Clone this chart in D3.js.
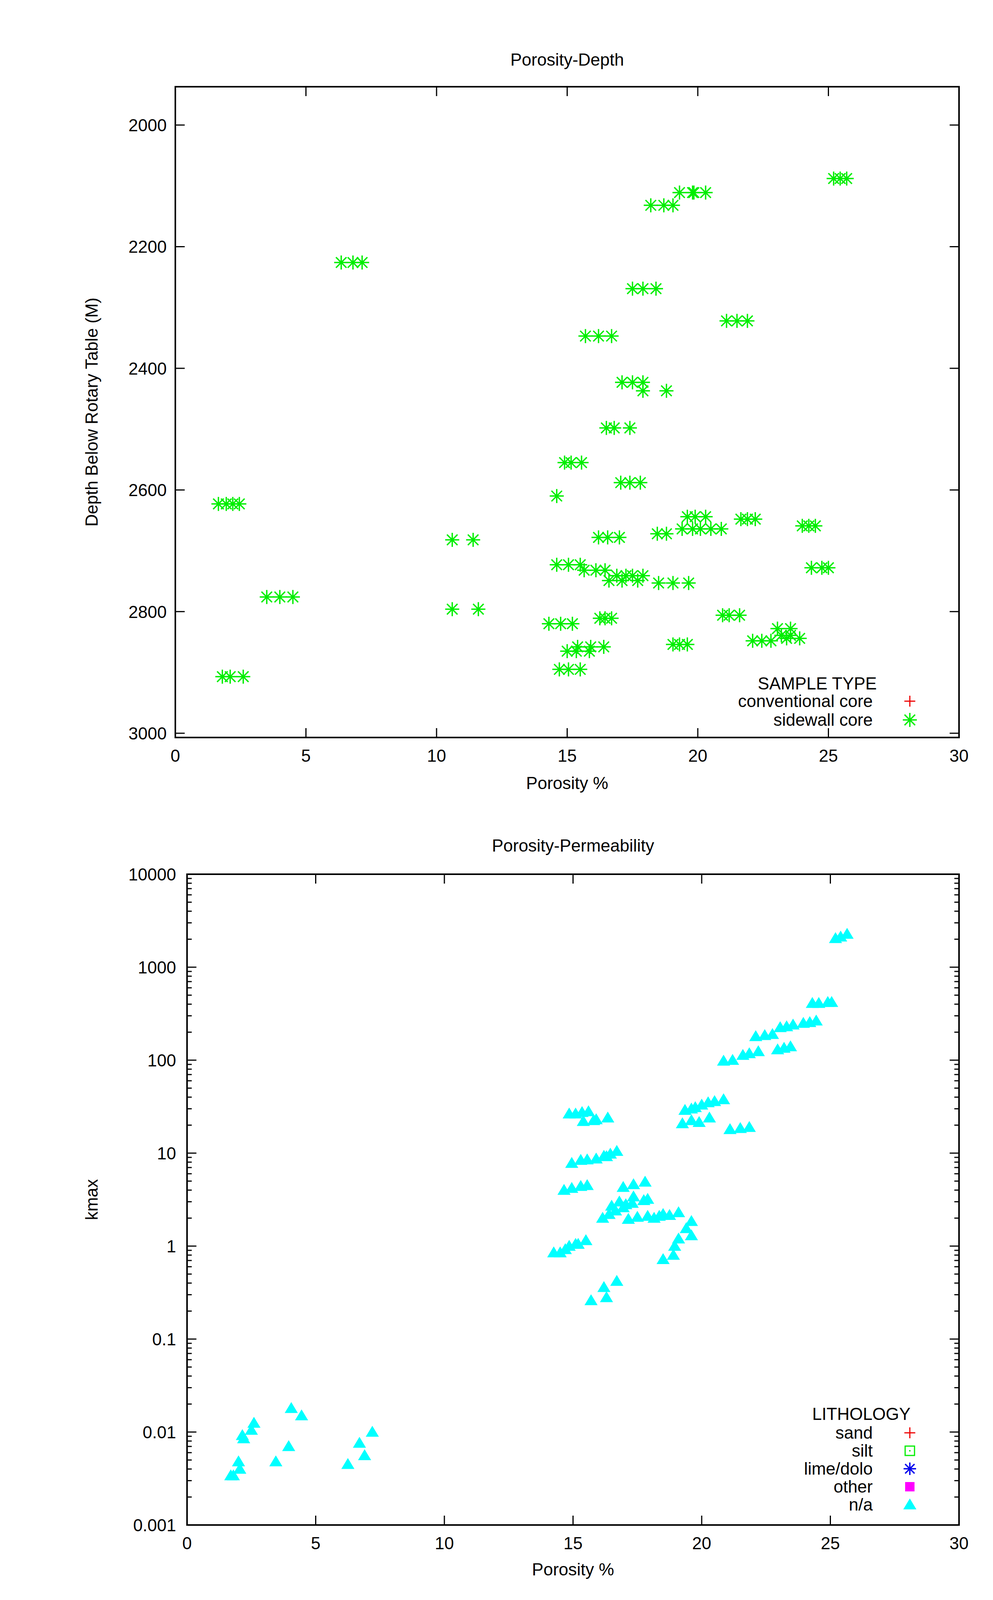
<!DOCTYPE html>
<html><head><meta charset="utf-8">
<script src="https://cdnjs.cloudflare.com/ajax/libs/d3/7.8.5/d3.min.js"></script>
<style>body{margin:0;background:#fff}text{font-family:"Liberation Sans",Arial,sans-serif}</style>
</head><body>
<script>
// sidewall core samples: porosity %, depth (M)
const swPoro = [25.2,25.45,25.7, 19.3,19.8,20.3,19.85, 18.2,18.7,19.05, 6.35,6.8,7.15, 17.5,17.9,18.4,
  21.1,21.5,21.9, 15.7,16.2,16.7, 17.1,17.5,17.9, 17.9,18.8, 16.5,16.8,17.4, 14.9,15.15,15.55,
  17.05,17.4,17.8, 14.6, 1.65,1.95,2.2,2.45, 19.6,19.9,20.3, 21.65,21.9,22.2, 24.0,24.25,24.5,
  19.4,19.8,20.1,20.5,20.9, 18.45,18.8, 16.2,16.55,17.0, 10.6,11.4, 14.6,15.05,15.5, 24.35,24.75,25.0,
  15.65,16.1,16.45, 16.9,17.25,17.5,17.9, 16.6,17.1,17.7, 18.5,19.05,19.65, 3.5,4.0,4.5, 10.6,11.6,
  20.95,21.2,21.6, 16.25,16.45,16.7, 14.3,14.75,15.2, 23.05,23.55, 23.2,23.55, 23.9,23.4,
  22.1,22.45,22.8, 19.05,19.3,19.6, 15.4,15.9,16.4, 15.0,15.35,15.85, 14.7,15.05,15.5, 1.8,2.1,2.6];
const swDepth = [2088,2088,2088, 2111,2111,2111,2111, 2132,2132,2132, 2226,2226,2226, 2269,2269,2269,
  2322,2322,2322, 2347,2347,2347, 2423,2423,2423, 2437,2437, 2498,2498,2498, 2555,2555,2555,
  2588,2588,2588, 2610, 2623,2623,2623,2623, 2644,2644,2644, 2648,2648,2648, 2659,2659,2659,
  2664,2664,2664,2664,2664, 2672,2672, 2678,2678,2678, 2682,2682, 2723,2723,2723, 2728,2728,2728,
  2732,2732,2732, 2741,2741,2741,2741, 2749,2749,2749, 2753,2753,2753, 2776,2776,2776, 2796,2796,
  2806,2806,2806, 2811,2811,2811, 2820,2820,2820, 2828,2828, 2839,2839, 2844,2844,
  2848,2848,2848, 2854,2854,2854, 2858,2858,2858, 2865,2865,2865, 2895,2895,2895, 2907,2907,2907];

// n/a lithology: porosity %, kmax
const naPoro = [25.2,25.4,25.65, 24.3,24.55,24.9,25.05, 24.45,24.2,23.95, 23.55,23.3,23.05, 23.45,23.2,22.95,
  22.75,22.45,22.1, 22.2,21.85,21.6, 21.2,20.85, 20.85,20.5,20.25,20.0,19.75,19.6,19.35,
  19.25,19.6,19.9,20.3, 21.1,21.5,21.85,
  14.85,15.1,15.35,15.6,15.4,15.8,15.9,16.35,
  14.95,15.3,15.55,15.9,16.2,16.3,16.45,16.7, 14.65,14.95,15.3,15.55,
  14.25,14.5,14.7,14.85,15.1,15.2,15.5, 15.7,16.2,16.3,16.7,
  16.15,16.4,16.5,16.65,16.8,16.95,17.05,17.15,17.3,17.35,17.5,16.95,17.35,17.8,17.75,17.9,
  17.9,18.15,18.35,18.5,18.75,19.1,19.6,19.4,19.6,19.1,18.95,18.9,18.5,
  1.7,1.8,2.0,2.05,2.15,2.2,2.5,2.6,3.45,3.95,4.05,4.45,6.25,6.7,6.9,7.2];
const naKmax = [2040,2120,2270, 410,410,420,420, 265,255,250, 240,230,225, 140,135,130,
  190,185,180, 124,118,113, 100,98, 37.7,36,35,33,31,30,29,
  20.8,22.5,21.5,24, 18,18.5,19,
  26.5,26.5,27.5,28,22,22.5,23,24,
  7.8,8.4,8.5,8.7,9.3,9.2,9.8,10.5, 4.0,4.2,4.4,4.5,
  0.85,0.85,0.92,1.0,1.05,1.05,1.15, 0.26,0.36,0.28,0.42,
  2.0,2.2,2.7,2.4,3.0,2.6,2.8,1.95,2.9,3.4,2.05,4.3,4.6,4.9,3.1,3.2,
  2.1,2.0,2.1,2.2,2.15,2.3,1.85,1.55,1.3,1.2,1.0,0.8,0.72,
  0.0034,0.0034,0.0048,0.004,0.0092,0.0085,0.0105,0.0125,0.0048,0.007,0.018,0.015,0.0045,0.0076,0.0056,0.01];

const xTicks = [0,5,10,15,20,25,30];
const depthTicks = [2000,2200,2400,2600,2800,3000];
const kTicks = [0.001,0.01,0.1,1,10,100,1000,10000];
const kTickLabels = ["0.001","0.01","0.1","1","10","100","1000","10000"];
const sampleTypes = ["conventional core","sidewall core"];
const lithologies = ["sand","silt","lime/dolo","other","n/a"];

const W = 2543, H = 4254, FS = 44, TL = 24;
const svg = d3.select("body").append("svg").attr("width", W).attr("height", H);
const GREEN = "#00ee00", CYAN = "#00ffff";

function star(g, x, y, c, r) {
  const p = g.append("g").attr("stroke", c).attr("stroke-width", 3.5);
  p.append("line").attr("x1", x - r).attr("x2", x + r).attr("y1", y).attr("y2", y);
  p.append("line").attr("x1", x).attr("x2", x).attr("y1", y - r).attr("y2", y + r);
  const d = r * 0.75;
  p.append("line").attr("x1", x - d).attr("x2", x + d).attr("y1", y - d).attr("y2", y + d);
  p.append("line").attr("x1", x - d).attr("x2", x + d).attr("y1", y + d).attr("y2", y - d);
}
function tri(g, x, y, c, r) {
  g.append("path").attr("d", `M${x},${y - r}L${x + r * 1.05},${y + r * 0.75}L${x - r * 1.05},${y + r * 0.75}Z`).attr("fill", c);
}
function frame(g, L, R, T, B) {
  g.append("rect").attr("x", L).attr("y", T).attr("width", R - L).attr("height", B - T)
    .attr("fill", "none").attr("stroke", "#000").attr("stroke-width", 4);
}
function xAxis(g, x, T, B, label, ly) {
  xTicks.forEach(t => {
    g.append("line").attr("x1", x(t)).attr("x2", x(t)).attr("y1", B).attr("y2", B - TL).attr("stroke", "#000").attr("stroke-width", 3);
    g.append("line").attr("x1", x(t)).attr("x2", x(t)).attr("y1", T).attr("y2", T + TL).attr("stroke", "#000").attr("stroke-width", 3);
    g.append("text").attr("x", x(t)).attr("y", B + 62).attr("text-anchor", "middle").attr("font-size", FS).text(t);
  });
  g.append("text").attr("x", (x(0) + x(30)) / 2).attr("y", ly).attr("text-anchor", "middle").attr("font-size", FS).text(label);
}

// ---------- Porosity-Depth ----------
{
  const L = 449, R = 2456, T = 222, B = 1888;
  const x = d3.scaleLinear().domain([0, 30]).range([L, R]);
  const y = d3.scaleLinear().domain([1937, 3007]).range([T, B]);
  const g = svg.append("g");
  g.append("text").attr("x", (L + R) / 2).attr("y", 168).attr("text-anchor", "middle").attr("font-size", FS).text("Porosity-Depth");
  depthTicks.forEach(t => {
    g.append("line").attr("x1", L).attr("x2", L + TL).attr("y1", y(t)).attr("y2", y(t)).attr("stroke", "#000").attr("stroke-width", 3);
    g.append("line").attr("x1", R).attr("x2", R - TL).attr("y1", y(t)).attr("y2", y(t)).attr("stroke", "#000").attr("stroke-width", 3);
    g.append("text").attr("x", L - 22).attr("y", y(t) + 16).attr("text-anchor", "end").attr("font-size", FS).text(t);
  });
  xAxis(g, x, T, B, "Porosity %", 2020);
  g.append("text").attr("transform", `translate(250,${(T + B) / 2}) rotate(-90)`).attr("text-anchor", "middle").attr("font-size", FS).text("Depth Below Rotary Table (M)");
  frame(g, L, R, T, B);
  swPoro.forEach((p, i) => star(g, x(p), y(swDepth[i]), GREEN, 18));
  g.append("text").attr("x", 2093).attr("y", 1765).attr("text-anchor", "middle").attr("font-size", FS).text("SAMPLE TYPE");
  sampleTypes.forEach((s, i) => {
    const yy = 1795 + i * 48;
    g.append("text").attr("x", 2235).attr("y", yy + 15).attr("text-anchor", "end").attr("font-size", FS).text(s);
    if (i === 0) {
      g.append("path").attr("d", `M2316,${yy}h28M2330,${yy - 14}v28`).attr("stroke", "#ee0000").attr("stroke-width", 3);
    } else star(g, 2330, yy, GREEN, 18);
  });
}

// ---------- Porosity-Permeability ----------
{
  const L = 479, R = 2456, T = 2238, B = 3904;
  const x = d3.scaleLinear().domain([0, 30]).range([L, R]);
  const y = d3.scaleLog().domain([0.001, 10000]).range([B, T]);
  const g = svg.append("g");
  g.append("text").attr("x", (L + R) / 2).attr("y", 2180).attr("text-anchor", "middle").attr("font-size", FS).text("Porosity-Permeability");
  kTicks.forEach((t, i) => {
    g.append("line").attr("x1", L).attr("x2", L + TL).attr("y1", y(t)).attr("y2", y(t)).attr("stroke", "#000").attr("stroke-width", 3);
    g.append("line").attr("x1", R).attr("x2", R - TL).attr("y1", y(t)).attr("y2", y(t)).attr("stroke", "#000").attr("stroke-width", 3);
    g.append("text").attr("x", L - 28).attr("y", y(t) + 16).attr("text-anchor", "end").attr("font-size", FS).text(kTickLabels[i]);
    if (t < 10000) for (let m = 2; m < 10; m++) {
      const v = t * m;
      g.append("line").attr("x1", L).attr("x2", L + 12).attr("y1", y(v)).attr("y2", y(v)).attr("stroke", "#000").attr("stroke-width", 3);
      g.append("line").attr("x1", R).attr("x2", R - 12).attr("y1", y(v)).attr("y2", y(v)).attr("stroke", "#000").attr("stroke-width", 3);
    }
  });
  xAxis(g, x, T, B, "Porosity %", 4033);
  g.append("text").attr("transform", `translate(250,${(T + B) / 2}) rotate(-90)`).attr("text-anchor", "middle").attr("font-size", FS).text("kmax");
  frame(g, L, R, T, B);
  naPoro.forEach((p, i) => tri(g, x(p), y(naKmax[i]), CYAN, 16));
  g.append("text").attr("x", 2206).attr("y", 3635).attr("text-anchor", "middle").attr("font-size", FS).text("LITHOLOGY");
  lithologies.forEach((s, i) => {
    const yy = 3668 + i * 46;
    g.append("text").attr("x", 2235).attr("y", yy + 15).attr("text-anchor", "end").attr("font-size", FS).text(s);
    if (i === 0) g.append("path").attr("d", `M2316,${yy}h28M2330,${yy - 14}v28`).attr("stroke", "#ee0000").attr("stroke-width", 3);
    else if (i === 1) {
      g.append("rect").attr("x", 2318).attr("y", yy - 12).attr("width", 24).attr("height", 24).attr("fill", "none").attr("stroke", GREEN).attr("stroke-width", 3);
      g.append("circle").attr("cx", 2330).attr("cy", yy).attr("r", 2).attr("fill", GREEN);
    } else if (i === 2) star(g, 2330, yy, "#0000ee", 16);
    else if (i === 3) g.append("rect").attr("x", 2318).attr("y", yy - 12).attr("width", 24).attr("height", 24).attr("fill", "#ff00ff");
    else tri(g, 2330, yy, CYAN, 16);
  });
}
</script>
</body></html>
